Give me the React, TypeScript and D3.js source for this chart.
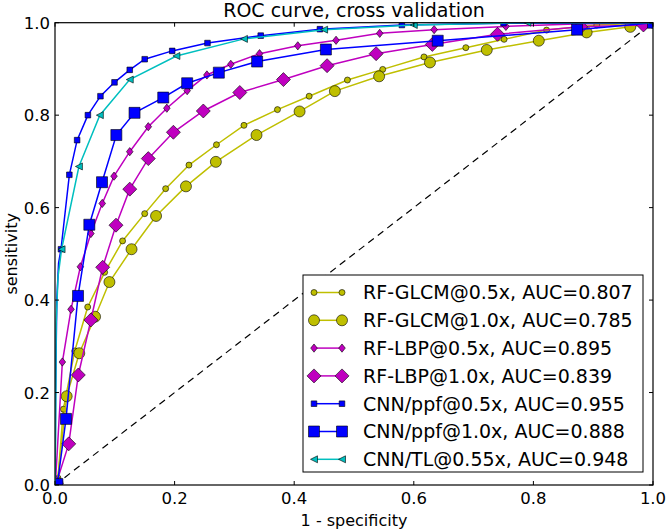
import React from "react";
import * as d3 from "d3";

const W = 666;
const H = 531;
// plot frame: 55..653 horizontally, 22.7..485 vertically
const M = { left: 55, right: 13, top: 22.7, bottom: 46 };

const tickValues = [0, 0.2, 0.4, 0.6, 0.8, 1.0];

// marker points, [1 - specificity, sensitivity]
const glcm05 = [
  [0.005, 0.015], [0.014, 0.164], [0.033, 0.29], [0.0547, 0.385], [0.083, 0.46],
  [0.113, 0.528], [0.150, 0.587], [0.185, 0.641], [0.224, 0.692], [0.270, 0.736],
  [0.316, 0.778], [0.372, 0.812], [0.425, 0.841], [0.489, 0.876], [0.548, 0.899],
  [0.617, 0.926], [0.687, 0.946], [0.751, 0.964], [0.822, 0.984], [0.906, 0.995], [1, 1],
];
const glcm10 = [
  [0.004, 0.005], [0.0195, 0.192], [0.0406, 0.285], [0.067, 0.364], [0.091, 0.439],
  [0.128, 0.510], [0.169, 0.582], [0.219, 0.646], [0.269, 0.699], [0.337, 0.757],
  [0.409, 0.808], [0.468, 0.852], [0.542, 0.884], [0.627, 0.914], [0.722, 0.941],
  [0.809, 0.961], [0.889, 0.979], [0.962, 0.991], [1, 1],
];
const lbp05 = [
  [0.001, 0.01], [0.0123, 0.266], [0.0268, 0.380], [0.0424, 0.472], [0.060, 0.544],
  [0.079, 0.609], [0.0987, 0.668], [0.125, 0.721], [0.156, 0.775], [0.187, 0.815],
  [0.221, 0.853], [0.254, 0.887], [0.294, 0.910], [0.342, 0.933], [0.406, 0.950],
  [0.470, 0.962], [0.543, 0.977], [0.634, 0.985], [0.754, 0.992], [0.87, 0.997], [1, 1],
];
const lbp10 = [
  [0.002, 0.003], [0.023, 0.089], [0.039, 0.238], [0.060, 0.357], [0.0797, 0.471],
  [0.102, 0.562], [0.125, 0.640], [0.156, 0.706], [0.198, 0.763], [0.248, 0.809],
  [0.309, 0.849], [0.382, 0.877], [0.455, 0.907], [0.537, 0.933], [0.631, 0.953],
  [0.740, 0.975], [0.879, 0.991], [0.984, 0.995],
];
const cnn05Head = [[0, 0], [0.001, 0.2], [0.003, 0.4], [0.006, 0.48]];
const cnn05 = [
  [0.010, 0.51], [0.024, 0.671], [0.037, 0.746], [0.055, 0.80], [0.076, 0.841],
  [0.0995, 0.871], [0.125, 0.898], [0.150, 0.921], [0.196, 0.939], [0.255, 0.956],
  [0.344, 0.972], [0.443, 0.986], [0.58, 0.995], [0.75, 0.999], [1, 1],
];
const cnn10 = [
  [0.004, 0.002], [0.0184, 0.143], [0.0385, 0.409], [0.0574, 0.563], [0.0786, 0.655],
  [0.1026, 0.757], [0.133, 0.805], [0.181, 0.838], [0.221, 0.869], [0.274, 0.892],
  [0.338, 0.916], [0.453, 0.942], [0.640, 0.961], [0.873, 0.985], [1, 1],
];
const tlHead = [[0, 0], [0.001, 0.1], [0.002, 0.35], [0.005, 0.45]];
const tl = [
  [0.011, 0.51], [0.040, 0.689], [0.075, 0.800], [0.125, 0.877], [0.203, 0.928],
  [0.316, 0.965], [0.45, 0.985], [0.6, 0.995], [0.79, 1.0], [1, 1],
];

const labels = [
  "RF-GLCM@0.5x, AUC=0.807",
  "RF-GLCM@1.0x, AUC=0.785",
  "RF-LBP@0.5x, AUC=0.895",
  "RF-LBP@1.0x, AUC=0.839",
  "CNN/ppf@0.5x, AUC=0.955",
  "CNN/ppf@1.0x, AUC=0.888",
  "CNN/TL@0.55x, AUC=0.948",
];

const series = [
  { head: [], pts: glcm05, color: "#bfbf00", shape: "circle", s: 3 },
  { head: [], pts: glcm10, color: "#bfbf00", shape: "circle", s: 5.5 },
  { head: [[0, 0]], pts: lbp05, color: "#bf00bf", shape: "thin", s: 3.3 },
  { head: [[0, 0]], pts: lbp10, color: "#bf00bf", shape: "diamond", s: 7 },
  { head: cnn05Head, pts: cnn05, color: "#0000ff", shape: "square", s: 2.8 },
  { head: [[0, 0]], pts: cnn10, color: "#0000ff", shape: "square", s: 5.5 },
  { head: tlHead, pts: tl, color: "#00bfbf", shape: "left", s: 3.5 },
];

function markerPath(shape: string, s: number) {
  if (shape === "circle") return d3.symbol(d3.symbolCircle, Math.PI * s * s)()!;
  if (shape === "square") return `M${-s},${-s}H${s}V${s}H${-s}Z`;
  if (shape === "diamond") return `M0,${-s}L${s},0L0,${s}L${-s},0Z`;
  if (shape === "thin") return `M0,${-s * 1.25}L${s},0L0,${s * 1.25}L${-s},0Z`;
  return `M${-s},0L${s},${-s}L${s},${s}Z`;
}

export default function App() {
  const x = d3.scaleLinear().domain([0, 1]).range([M.left, W - M.right]);
  const y = d3.scaleLinear().domain([0, 1]).range([H - M.bottom, M.top]);
  const line = d3.line<number[]>().x((d) => x(d[0])).y((d) => y(d[1]));
  const font = "DejaVu Sans, sans-serif";
  const x0 = x(0), x1 = x(1), y0 = y(0), y1 = y(1);

  const lg = { left: 303, top: 275, right: 643, bottom: 472, row0: 292.5, dy: 27.8 };

  return (
    <svg width={W} height={H} style={{ position: "absolute", left: 0, top: 0, background: "#fff" }}
      fontFamily={font}>
      <defs>
        <clipPath id="plot">
          <rect x={x0} y={y1} width={x1 - x0} height={y0 - y1} />
        </clipPath>
      </defs>
      <rect width={W} height={H} fill="#fff" />
      <g clipPath="url(#plot)">
        <path d={line([[0, 0], [1, 1]])!} stroke="#000" strokeWidth={1.2} strokeDasharray="7,5" fill="none" />
        {series.map((s, i) => (
          <g key={i}>
            <path d={line([...s.head, ...s.pts])!} stroke={s.color} strokeWidth={1.5} fill="none" />
            {s.pts.map((p, j) => (
              <path key={j} d={markerPath(s.shape, s.s)} transform={`translate(${x(p[0])},${y(p[1])})`}
                fill={s.color} stroke="#000" strokeWidth={0.6} />
            ))}
          </g>
        ))}
      </g>
      {/* frame */}
      <rect x={x0} y={y1} width={x1 - x0} height={y0 - y1} fill="none" stroke="#000" strokeWidth={1.2} />
      {/* ticks, inside on all four sides */}
      {tickValues.map((t) => (
        <g key={t}>
          <line x1={x(t)} x2={x(t)} y1={y0} y2={y0 - 4} stroke="#000" />
          <line x1={x(t)} x2={x(t)} y1={y1} y2={y1 + 4} stroke="#000" />
          <line x1={x0} x2={x0 + 4} y1={y(t)} y2={y(t)} stroke="#000" />
          <line x1={x1} x2={x1 - 4} y1={y(t)} y2={y(t)} stroke="#000" />
          <text x={x(t)} y={y0 + 18.5} textAnchor="middle" fontSize={16.5}>{t.toFixed(1)}</text>
          <text x={x0 - 5} y={y(t) + 6} textAnchor="end" fontSize={16.5}>{t.toFixed(1)}</text>
        </g>
      ))}
      <text x={(x0 + x1) / 2} y={16.5} textAnchor="middle" fontSize={19}>ROC curve, cross validation</text>
      <text x={(x0 + x1) / 2} y={526} textAnchor="middle" fontSize={16}>1 - specificity</text>
      <text transform={`translate(17,${(y0 + y1) / 2}) rotate(-90)`} textAnchor="middle" fontSize={16}>sensitivity</text>
      {/* legend */}
      <rect x={lg.left} y={lg.top} width={lg.right - lg.left} height={lg.bottom - lg.top}
        fill="#fff" stroke="#000" strokeWidth={1} />
      {series.map((s, i) => {
        const cy = lg.row0 + i * lg.dy;
        return (
          <g key={i}>
            <line x1={314} x2={342} y1={cy} y2={cy} stroke={s.color} strokeWidth={1.5} />
            {[314, 342].map((cx) => (
              <path key={cx} d={markerPath(s.shape, s.s)} transform={`translate(${cx},${cy})`}
                fill={s.color} stroke="#000" strokeWidth={0.6} />
            ))}
            <text x={363} y={cy + 6.8} fontSize={19}>{labels[i]}</text>
          </g>
        );
      })}
    </svg>
  );
}
